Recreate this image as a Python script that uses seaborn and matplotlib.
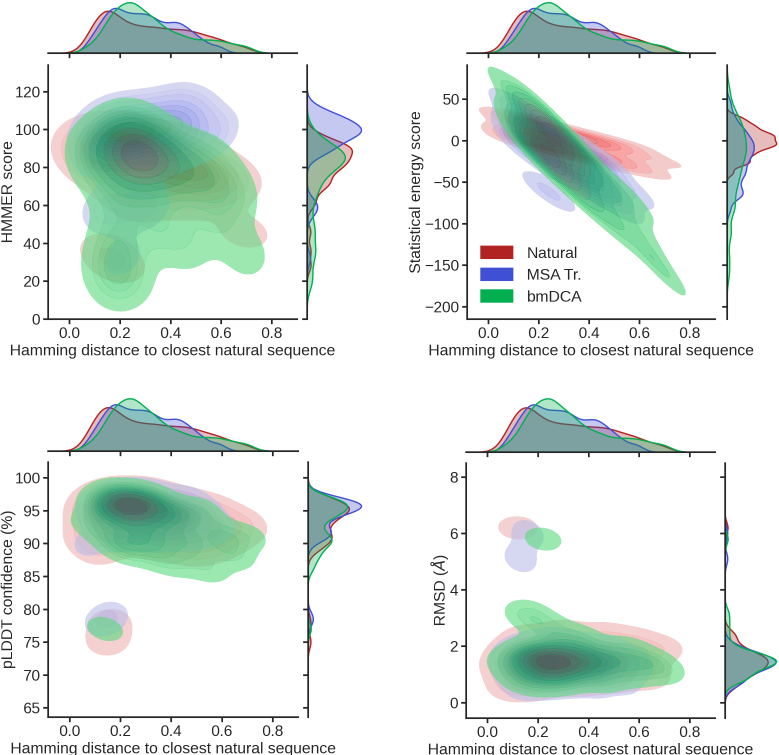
import io
import numpy as np
import pandas as pd
import matplotlib.pyplot as plt
from matplotlib.patches import Patch
import seaborn as sns

groups = ["Natural", "MSA Tr.", "bmDCA"]
colors = ["#b22222", "#4050d4", "#00b050"]

# Hamming distance to closest natural sequence (sorted) for each group
ham_natural = [0.07, 0.09, 0.10, 0.11, 0.12, 0.13, 0.14, 0.15, 0.15, 0.16,
               0.17, 0.18, 0.19, 0.20, 0.21, 0.23, 0.24, 0.25, 0.27, 0.28,
               0.30, 0.31, 0.33, 0.34, 0.36, 0.37, 0.39, 0.41, 0.42, 0.44,
               0.46, 0.47, 0.49, 0.51, 0.53, 0.55, 0.58, 0.60, 0.64, 0.69]
ham_msa = [0.08, 0.10, 0.12, 0.13, 0.14, 0.15, 0.16, 0.17, 0.18, 0.18,
           0.19, 0.20, 0.21, 0.22, 0.23, 0.24, 0.25, 0.26, 0.27, 0.28,
           0.29, 0.30, 0.31, 0.32, 0.33, 0.34, 0.35, 0.37, 0.38, 0.39,
           0.41, 0.42, 0.43, 0.44, 0.46, 0.47, 0.49, 0.51, 0.54, 0.59]
ham_bmdca = [0.08, 0.12, 0.14, 0.15, 0.16, 0.17, 0.18, 0.19, 0.20, 0.20,
             0.21, 0.22, 0.23, 0.24, 0.24, 0.25, 0.26, 0.26, 0.27, 0.28,
             0.29, 0.30, 0.31, 0.32, 0.33, 0.34, 0.35, 0.37, 0.38, 0.40,
             0.42, 0.44, 0.46, 0.49, 0.52, 0.55, 0.58, 0.61, 0.65, 0.70]

# HMMER score
hmmer_natural = [86, 90, 80, 92, 84, 95, 88, 36, 82, 90, 72, 96, 28, 92, 84, 88, 98, 60, 90, 78,
                 92, 84, 70, 88, 80, 93, 74, 86, 62, 82, 78, 90, 70, 84, 66, 80, 74, 70, 76, 46]
hmmer_msa = [98, 86, 104, 60, 96, 100, 92, 55, 102, 106, 98, 88, 32, 100, 95, 104, 90, 98, 62, 108,
             100, 94, 104, 58, 98, 92, 106, 100, 88, 110, 102, 96, 112, 90, 104, 108, 98, 106, 94, 100]
hmmer_bmdca = [84, 88, 92, 28, 70, 18, 45, 92, 35, 86, 90, 62, 100, 22, 88, 80, 94, 84, 76, 90,
               82, 96, 78, 86, 45, 88, 80, 84, 55, 86, 74, 82, 38, 78, 68, 84, 50, 72, 64, 34]

# Statistical energy score
energy_natural = [30, 10, 2, 19, 26, 7, -2, 16, 24, 5, -4, 14, 21, 2, -7, 10, 17, -2, -11, 6,
                  12, -6, -16, 2, 8, -11, -20, -4, 4, -16, -26, -8, -2, -21, -31, -14, -8, -28, -39, -25]
energy_msa = [45, 14, -3, 22, 33, 4, -10, 15, 26, -1, -16, 9, -55, -9, -24, 1, 12, -16, -68, -6,
              5, -24, -39, -14, -3, -32, -46, -23, -12, -41, -58, -33, -22, -51, -67, -42, -33, -64, -83, -65]
energy_bmdca = [61, 19, -2, 31, 45, 8, -12, 21, 36, 1, -19, 13, 27, -11, -28, 4, 18, -17, -37, -5,
                9, -29, -49, -17, -3, -41, -61, -32, -18, -59, -82, -53, -42, -86, -109, -80, -72, -113, -140, -160]

# pLDDT confidence (%)
plddt_natural = [91, 95, 93, 96, 89, 95, 97, 75, 94, 78, 91, 95, 97, 96, 92, 96, 95, 97, 96, 91,
                 95, 97, 94, 96, 90, 95, 93, 96, 91, 94, 90, 95, 93, 89, 95, 91, 94, 90, 93, 92]
plddt_msa = [90, 95, 96, 78, 94, 97, 79, 96, 92, 96, 95, 97, 91, 96, 95, 97, 96, 93, 97, 95,
             96, 91, 97, 95, 96, 94, 92, 96, 95, 91, 96, 94, 95, 92, 96, 93, 95, 91, 94, 92]
plddt_bmdca = [93, 96, 77, 95, 91, 97, 94, 96, 90, 97, 95, 96, 89, 96, 94, 97, 92, 96, 95, 90,
               96, 94, 97, 91, 95, 88, 96, 93, 90, 95, 87, 94, 91, 89, 95, 86, 92, 90, 88, 91]

# RMSD (Å)
rmsd_natural = [1.3, 0.5, 1.8, 1.1, 6.2, 1.5, 0.8, 2.3, 1.2, 1.6, 1.0, 1.4, 1.7, 0.6, 1.5, 1.2, 2.0, 1.1, 1.6, 1.3,
                2.5, 1.0, 1.5, 1.7, 0.7, 2.0, 1.4, 1.1, 1.7, 1.3, 2.4, 1.5, 0.8, 1.8, 1.4, 1.2, 2.2, 1.6, 0.9, 1.9]
rmsd_msa = [1.2, 1.6, 0.6, 5.1, 1.4, 1.7, 6.0, 1.1, 1.5, 1.3, 1.9, 0.7, 1.6, 1.2, 1.4, 1.8, 0.8, 1.5, 1.3, 2.1,
            1.1, 1.6, 1.4, 0.8, 1.7, 1.0, 1.5, 1.9, 1.3, 1.1, 1.6, 1.4, 0.7, 1.7, 1.2, 1.5, 1.3, 1.8, 0.8, 1.4]
rmsd_bmdca = [1.4, 0.9, 1.7, 3.2, 1.3, 1.6, 0.7, 2.9, 1.5, 1.2, 1.8, 5.8, 1.4, 0.9, 1.6, 1.3, 2.6, 1.7, 0.8, 1.5,
              1.2, 2.0, 1.4, 1.6, 0.9, 1.7, 1.3, 2.3, 1.5, 1.1, 1.8, 1.4, 0.8, 1.6, 1.3, 1.9, 1.0, 1.5, 1.4, 1.1]

frames = []
for g, ham, hm, en, pl, rm in [
    ("Natural", ham_natural, hmmer_natural, energy_natural, plddt_natural, rmsd_natural),
    ("MSA Tr.", ham_msa, hmmer_msa, energy_msa, plddt_msa, rmsd_msa),
    ("bmDCA", ham_bmdca, hmmer_bmdca, energy_bmdca, plddt_bmdca, rmsd_bmdca),
]:
    frames.append(pd.DataFrame({"group": g, "hamming": ham, "hmmer": hm,
                                "energy": en, "plddt": pl, "rmsd": rm}))
df = pd.concat(frames, ignore_index=True)

sns.set_theme(style="ticks")
plt.rcParams["font.family"] = ["Liberation Sans", "DejaVu Sans"]
plt.rcParams["font.size"] = 11
plt.rcParams["axes.labelsize"] = 11.3
plt.rcParams["xtick.labelsize"] = 11
plt.rcParams["ytick.labelsize"] = 11
plt.rcParams["xtick.major.size"] = 3.5
plt.rcParams["ytick.major.size"] = 3.5
plt.rcParams["xtick.major.pad"] = 2
plt.rcParams["ytick.major.pad"] = 2
plt.rcParams["axes.labelpad"] = 2

W, H = 779, 755
fig = plt.figure(figsize=(W / 100, H / 100), dpi=100)


def rect(x0, x1, y0, y1):
    return [x0 / W, 1 - y1 / H, (x1 - x0) / W, (y1 - y0) / H]


# column, label, y range, y ticks, label x, kde bandwidth, main / top / right boxes (px)
panels = [
    ("hmmer", "HMMER score", (0, 134), [0, 20, 40, 60, 80, 100, 120], -0.13, 0.85,
     (48, 297, 65, 319), (48, 297, 0, 53), (307, 364, 65, 319)),
    ("energy", "Statistical energy score", (-215, 91), [-200, -150, -100, -50, 0, 50], -0.175, 0.85,
     (467, 715, 65, 319), (467, 715, 0, 53), (727, 779, 65, 319)),
    ("plddt", "pLDDT confidence (%)", (63.6, 102.4), [65, 70, 75, 80, 85, 90, 95, 100], -0.129, 0.7,
     (48, 298, 462, 717), (48, 298, 396, 451), (308, 364, 462, 717)),
    ("rmsd", "RMSD ($\\AA$)", (-0.55, 8.5), [0, 2, 4, 6, 8], -0.068, 0.7,
     (466, 715, 463, 718), (466, 715, 396, 452), (725, 779, 463, 718)),
]
xlim = (-0.085, 0.9)

for col, ylabel, ylim, yticks, lab_x, bw, r_main, r_top, r_right in panels:
    ax = fig.add_axes(rect(*r_main))
    ax_top = fig.add_axes(rect(*r_top))
    ax_right = fig.add_axes(rect(*r_right))
    for g, c in zip(groups, colors):
        sub = df[df["group"] == g]
        sns.kdeplot(data=sub, x="hamming", y=col, fill=True, color=c, alpha=0.6,
                    levels=10, thresh=0.05, bw_adjust=bw, ax=ax)
        sns.kdeplot(data=sub, x="hamming", fill=True, color=c, alpha=0.3,
                    linewidth=1, bw_adjust=0.45, ax=ax_top)
        sns.kdeplot(data=sub, y=col, fill=True, color=c, alpha=0.3,
                    linewidth=1, bw_adjust=0.45, ax=ax_right)
    ax.set_xlim(xlim)
    ax.set_ylim(ylim)
    ax.set_xticks([0.0, 0.2, 0.4, 0.6, 0.8])
    ax.set_yticks(yticks)
    ax.set_xlabel("Hamming distance to closest natural sequence")
    ax.set_ylabel(ylabel)
    ax.yaxis.set_label_coords(lab_x, 0.5)
    sns.despine(ax=ax)

    ax_top.set_xlim(xlim)
    ax_top.set_xticks([0.0, 0.2, 0.4, 0.6, 0.8])
    ax_top.tick_params(labelbottom=False)
    ax_top.set_yticks([])
    ax_top.set_xlabel("")
    ax_top.set_ylabel("")
    sns.despine(ax=ax_top, left=True)

    ax_right.set_ylim(ylim)
    ax_right.set_yticks(yticks)
    ax_right.tick_params(labelleft=False)
    ax_right.set_xticks([])
    ax_right.set_xlabel("")
    ax_right.set_ylabel("")
    sns.despine(ax=ax_right, bottom=True)

    if col == "energy":
        handles = [Patch(facecolor=c, edgecolor=c) for c in colors]
        ax.legend(handles, groups, loc="lower left", frameon=False, fontsize=11.3,
                  handlelength=2.0, handleheight=0.8, handletextpad=0.9,
                  labelspacing=0.45, bbox_to_anchor=(0.0, 0.0))

# render at 3x and average down to smooth the seams between contour bands
buf = io.BytesIO()
fig.savefig(buf, dpi=300, format="png")
buf.seek(0)
img = plt.imread(buf)
h, w = img.shape[0] // 3 * 3, img.shape[1] // 3 * 3
small = img[:h, :w].reshape(h // 3, 3, w // 3, 3, -1).mean(axis=(1, 3))
plt.imsave("out.png", np.clip(small, 0, 1))
